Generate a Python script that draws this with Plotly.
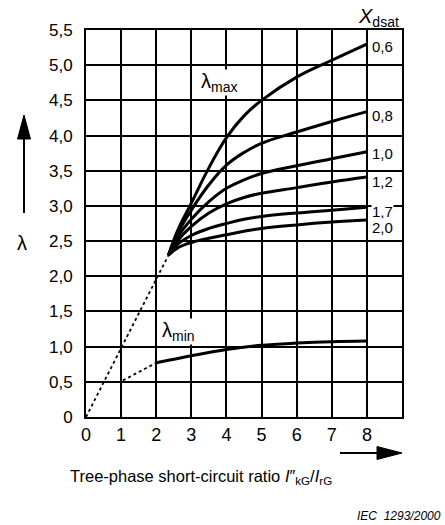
import plotly.graph_objects as go

# Peak-factor curves lambda_max for several saturated reactances X_dsat
ratio_max = [2.35, 2.6, 3.0, 3.5, 4.0, 4.5, 5.0, 6.0, 7.0, 8.0]
lam_max_06 = [2.30, 2.64, 3.04, 3.54, 3.97, 4.28, 4.50, 4.83, 5.07, 5.30]
lam_max_08 = [2.30, 2.60, 2.94, 3.30, 3.58, 3.76, 3.89, 4.05, 4.20, 4.34]
lam_max_10 = [2.30, 2.55, 2.81, 3.06, 3.25, 3.37, 3.46, 3.57, 3.67, 3.77]
lam_max_12 = [2.30, 2.50, 2.71, 2.90, 3.03, 3.12, 3.18, 3.26, 3.34, 3.41]
lam_max_17 = [2.30, 2.45, 2.58, 2.68, 2.75, 2.81, 2.85, 2.90, 2.94, 2.98]
lam_max_20 = [2.30, 2.40, 2.48, 2.54, 2.59, 2.64, 2.68, 2.73, 2.77, 2.80]
xdsat_labels = ["0,6", "0,8", "1,0", "1,2", "1,7", "2,0"]

# Minimum factor lambda_min
ratio_min = [2.0, 3.0, 4.0, 5.0, 6.0, 7.0, 8.0]
lam_min = [0.77, 0.87, 0.96, 1.02, 1.05, 1.07, 1.08]

# Dotted extensions towards low ratios
dot_max_x = [0.0, 2.35]
dot_max_y = [0.0, 2.30]
dot_min_x = [1.05, 2.0]
dot_min_y = [0.52, 0.77]

# Axis ticks
x_ticks = [0, 1, 2, 3, 4, 5, 6, 7, 8]
y_ticks = [0, 0.5, 1.0, 1.5, 2.0, 2.5, 3.0, 3.5, 4.0, 4.5, 5.0, 5.5]
y_tick_text = ["0", "0,5", "1,0", "1,5", "2,0", "2,5", "3,0", "3,5",
               "4,0", "4,5", "5,0", "5,5"]

W, H = 445, 525
L, R, T, B = 86, 43, 30, 108
PW, PH = W - L - R, H - T - B


def px(x):
    return (x - L) / PW


def py(y):
    return (H - B - y) / PH


FONT = "Liberation Sans, Arial, sans-serif"
fig = go.Figure()

curves = [lam_max_06, lam_max_08, lam_max_10, lam_max_12, lam_max_17, lam_max_20]
for ys in curves:
    fig.add_trace(go.Scatter(x=ratio_max, y=ys, mode="lines",
                             line=dict(color="black", width=3, shape="spline",
                                       smoothing=1.2),
                             showlegend=False, hoverinfo="skip"))

fig.add_trace(go.Scatter(x=ratio_min, y=lam_min, mode="lines",
                         line=dict(color="black", width=3, shape="spline",
                                   smoothing=1.0),
                         showlegend=False, hoverinfo="skip"))
for xs, ys in [(dot_max_x, dot_max_y), (dot_min_x, dot_min_y)]:
    fig.add_trace(go.Scatter(x=xs, y=ys, mode="lines",
                             line=dict(color="black", width=1.8, dash="dot"),
                             showlegend=False, hoverinfo="skip"))

annotations = []
# X_dsat labels to the right of the curve ends
label_shift = [-0.04, -0.05, -0.02, -0.07, -0.06, -0.10]
for lab, ys, dy in zip(xdsat_labels, curves, label_shift):
    annotations.append(dict(x=8.12, y=ys[-1] + dy, xref="x", yref="y",
                            text=lab, showarrow=False, xanchor="left",
                            yanchor="middle", bgcolor="white", borderpad=0,
                            font=dict(size=15, color="black", family=FONT)))
annotations += [
    dict(x=px(378), y=py(17), xref="paper", yref="paper",
         xanchor="center", yanchor="middle",
         text="<i>X</i><sub>dsat</sub>", showarrow=False,
         font=dict(size=20, color="black", family=FONT)),
    dict(x=3.78, y=4.76, xref="x", yref="y", text="λ<sub>max</sub>",
         xanchor="center", yanchor="middle",
         showarrow=False, bgcolor="white", borderpad=0,
         font=dict(size=20, color="black", family=FONT)),
    dict(x=2.64, y=1.22, xref="x", yref="y", text="λ<sub>min</sub>",
         xanchor="center", yanchor="middle",
         showarrow=False, bgcolor="white", borderpad=0,
         font=dict(size=20, color="black", family=FONT)),
    dict(x=px(22), y=py(243), xref="paper", yref="paper", text="λ",
         xanchor="center", yanchor="middle",
         showarrow=False, font=dict(size=20, color="black", family=FONT)),
    dict(x=px(68), y=py(477), xref="paper", yref="paper",
         xanchor="left", yanchor="middle",
         text="Tree-phase short-circuit ratio <i>I</i>\u2033<sub>kG</sub>/<i>I</i><sub>rG</sub>",
         showarrow=False, font=dict(size=16.5, color="black", family=FONT)),
    dict(x=px(443), y=py(516), xref="paper", yref="paper",
         xanchor="right", yanchor="middle",
         text="<i>IEC\u00a0\u00a01293/2000</i>", showarrow=False,
         font=dict(size=12, color="black", family=FONT)),
]

shapes = [
    # vertical arrow next to lambda
    dict(type="line", xref="paper", yref="paper", x0=px(24), x1=px(24),
         y0=py(213), y1=py(136), line=dict(color="black", width=2)),
    dict(type="path", xref="paper", yref="paper", fillcolor="black",
         line=dict(color="black", width=1),
         path=f"M {px(24)} {py(115)} L {px(17.5)} {py(139)} L {px(30.5)} {py(139)} Z"),
    # horizontal arrow under the x axis
    dict(type="line", xref="paper", yref="paper", x0=px(340), x1=px(380),
         y0=py(453), y1=py(453), line=dict(color="black", width=2)),
    dict(type="path", xref="paper", yref="paper", fillcolor="black",
         line=dict(color="black", width=1),
         path=f"M {px(402)} {py(453)} L {px(377)} {py(446.5)} L {px(377)} {py(459.5)} Z"),
]

fig.update_layout(
    width=W, height=H,
    margin=dict(l=L, r=R, t=T, b=B),
    paper_bgcolor="white", plot_bgcolor="white",
    annotations=annotations, shapes=shapes,
    font=dict(family=FONT, color="black"),
)
fig.update_xaxes(range=[0, 9], tickvals=x_ticks, ticktext=[str(v) for v in x_ticks],
                 showgrid=True, gridcolor="black", gridwidth=1.6,
                 showline=True, linecolor="black", linewidth=2, mirror=True,
                 zeroline=False, ticks="", tickfont=dict(size=18, family=FONT))
fig.update_yaxes(range=[0, 5.5], tickvals=y_ticks, ticktext=y_tick_text,
                 showgrid=True, gridcolor="black", gridwidth=1.6,
                 showline=True, linecolor="black", linewidth=2, mirror=True,
                 zeroline=False, ticks="", ticklabelstandoff=8,
                 tickfont=dict(size=17, family=FONT))

fig.write_html("out.html")
